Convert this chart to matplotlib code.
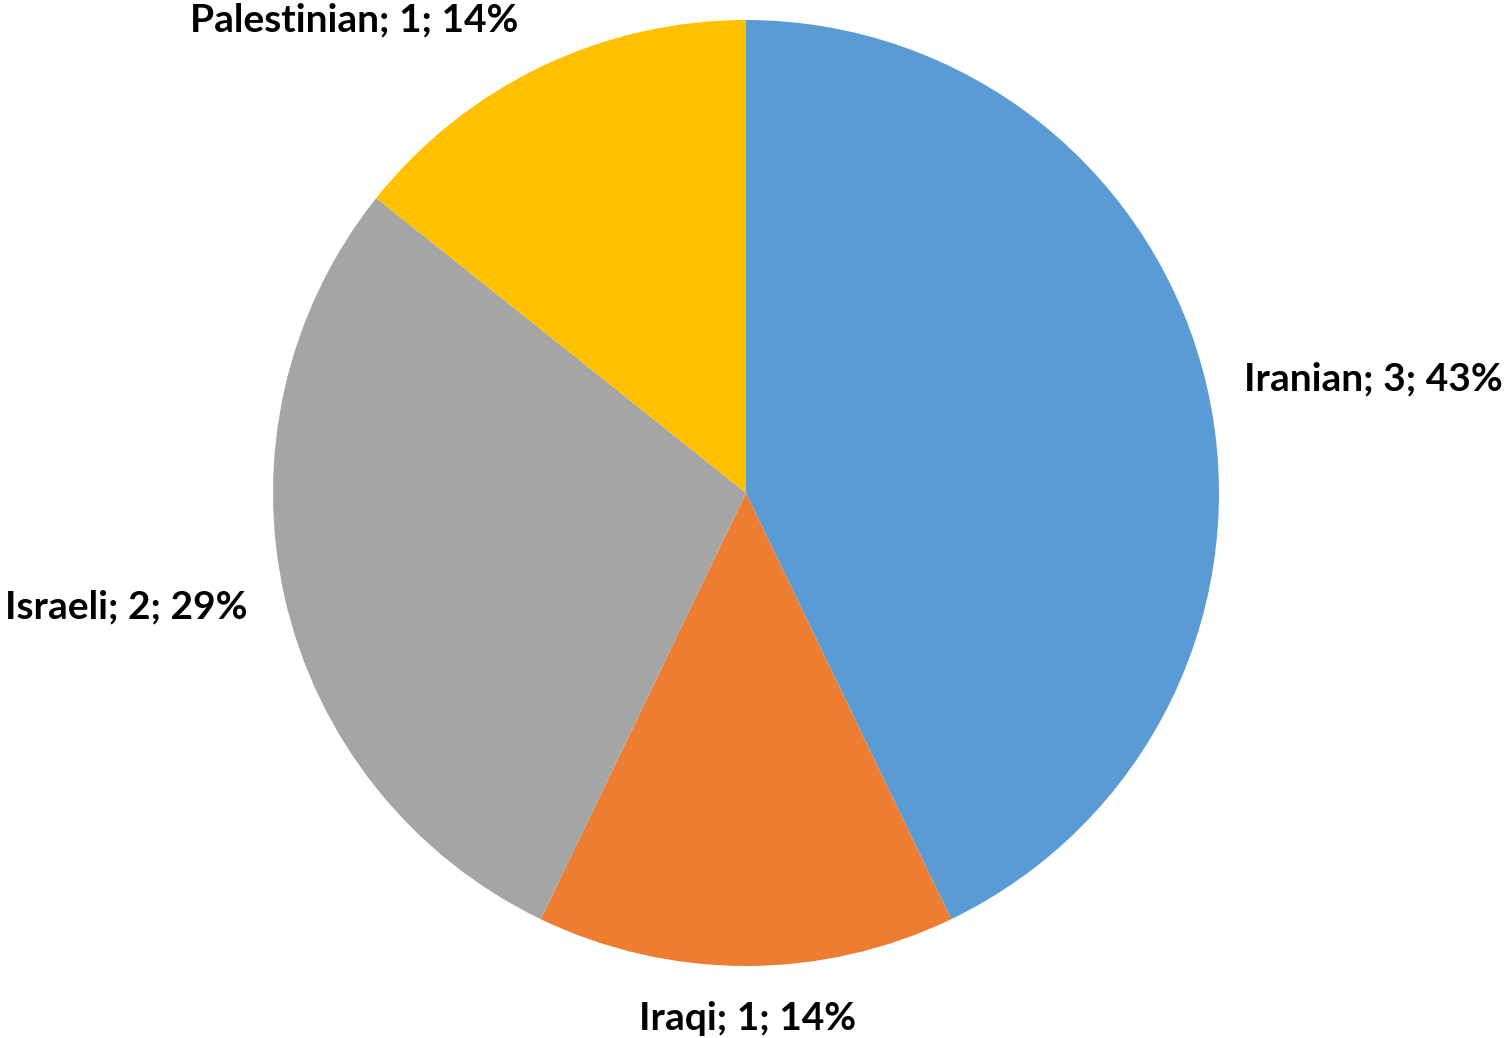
import matplotlib
matplotlib.use("Agg")
import matplotlib.pyplot as plt

# data
names = ["Iranian", "Iraqi", "Israeli", "Palestinian"]
counts = [3, 1, 2, 1]
colors = ["#5B9BD5", "#ED7D31", "#A5A5A5", "#FFC000"]

W, H = 1507, 1038
fig = plt.figure(figsize=(W / 100, H / 100), dpi=100)

# pie center and radius in pixels
cx, cy, r = 746, 493, 473
ax = fig.add_axes([(cx - r) / W, (H - cy - r) / H, 2 * r / W, 2 * r / H])

total = sum(counts)
labels = ["%s; %d; %d%%" % (n, c, round(100 * c / total)) for n, c in zip(names, counts)]

wedges, texts = ax.pie(counts, colors=colors, startangle=90, counterclock=False,
                       labels=labels, labeldistance=1.08, radius=1,
                       wedgeprops=dict(linewidth=0),
                       textprops=dict(fontsize=28, fontweight="bold", family="Lato",
                                      color="black"))
ax.set_xlim(-1, 1)
ax.set_ylim(-1, 1)
ax.set_aspect("equal")
ax.axis("off")

# nudge labels where Excel placed them
texts[0].set_ha("left")
texts[0].set_va("center")
texts[1].set_position((0.004, -1.11))
texts[1].set_ha("center")
texts[1].set_va("center")
texts[2].set_ha("right")
texts[2].set_va("center")
texts[3].set_position((-0.829, 1.0))
texts[3].set_ha("center")
texts[3].set_va("center")

fig.savefig("out.png", dpi=100)
